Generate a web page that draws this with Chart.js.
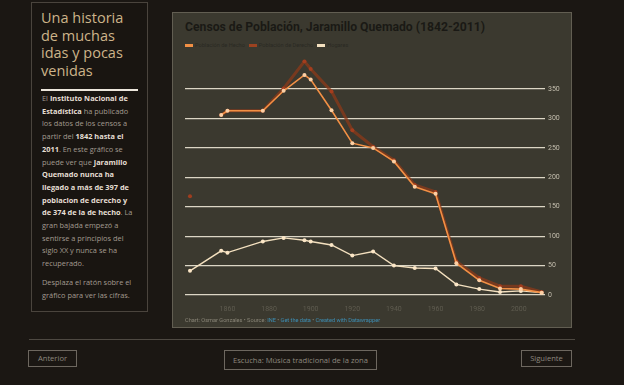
<!DOCTYPE html>
<html>
<head>
<meta charset="utf-8">
<script src="https://cdn.jsdelivr.net/npm/chart.js@4.4.0/dist/chart.umd.min.js"></script>
<style>
  body { margin:0; width:624px; height:385px; background:#1b1713; overflow:hidden; position:relative; font-family:"Open Sans", sans-serif; }
  #side { position:absolute; left:31px; top:2px; width:117px; height:310px; border:1px solid #4a443d; box-sizing:border-box; background:#191511; }
  #side h1 { position:absolute; left:9px; top:6px; margin:0; font-weight:400; font-size:14.5px; line-height:17.5px; color:#cdb48a; white-space:nowrap; }
  #side .rule { position:absolute; left:9px; top:86px; width:97px; height:2px; background:#ece6dc; }
  #side .txt { position:absolute; left:10px; top:89px; font-size:7.4px; line-height:12.7px; color:#a39b90; white-space:nowrap; }
  #side .txt b { color:#e6dfd4; font-weight:700; }
  #side .txt .gap { height:6px; }
  #panel { position:absolute; left:172px; top:12px; width:400px; height:316px; background:#3b392f; border:1px solid #625e52; box-sizing:border-box; }
  #title { position:absolute; left:185px; top:20px; font-family:Roboto, sans-serif; font-weight:700; font-size:12.2px; color:#1a1915; white-space:nowrap; }
  #legend { position:absolute; left:185px; top:42px; font-family:Roboto, sans-serif; font-size:5.6px; color:#2a2923; white-space:nowrap; }
  #legend span { margin-right:4px; }
  #legend i { display:inline-block; width:8px; height:3px; margin-right:2px; vertical-align:middle; }
  #footer { position:absolute; left:185px; top:317px; font-family:Roboto, sans-serif; font-size:5.6px; color:#8a8678; white-space:nowrap; }
  #footer a { color:#3d8fb6; text-decoration:none; }
  #chartBox { position:absolute; left:172px; top:12px; width:400px; height:316px; }
  #line { position:absolute; left:29px; top:339px; width:546px; height:1px; background:#4e4942; }
  .btn { position:absolute; top:350px; height:17px; border:1px solid #6d675f; box-sizing:border-box; color:#8e887f; font-size:7.6px; line-height:15px; text-align:center; white-space:nowrap; }
</style>
</head>
<body>
<div id="side">
  <h1>Una historia<br>de muchas<br>idas y pocas<br>venidas</h1>
  <div class="rule"></div>
  <div class="txt">
    El <b>Instituto Nacional de</b><br>
    <b>Estadística</b> ha publicado<br>
    los datos de los censos a<br>
    partir del <b>1842 hasta el</b><br>
    <b>2011</b>. En este gráfico se<br>
    puede ver que <b>Jaramillo</b><br>
    <b>Quemado nunca ha</b><br>
    <b>llegado a más de 397 de</b><br>
    <b>poblacion de derecho y</b><br>
    <b>de 374 de la de hecho</b>. La<br>
    gran bajada empezó a<br>
    sentirse a principios del<br>
    siglo XX y nunca se ha<br>
    recuperado.
    <div class="gap"></div>
    Desplaza el ratón sobre el<br>
    gráfico para ver las cifras.
  </div>
</div>

<div id="panel"></div>
<div id="title">Censos de Población, Jaramillo Quemado (1842-2011)</div>
<div id="legend"></div>
<div id="chartBox"><canvas id="censos" width="400" height="316"></canvas></div>
<div id="footer">Chart: Osmar Gonzales • Source: <a>INE</a> • <a>Get the data</a> • <a>Created with Datawrapper</a></div>

<div id="line"></div>
<div class="btn" style="left:28px;width:49px;">Anterior</div>
<div class="btn" style="left:224px;width:153px;height:20px;line-height:18px;">Escucha: Música tradicional de la zona</div>
<div class="btn" style="left:521px;width:51px;">Siguiente</div>

<script>
// census years and values
const years   = [1842, 1857, 1860, 1877, 1887, 1897, 1900, 1910, 1920, 1930, 1940, 1950, 1960, 1970, 1981, 1991, 2001, 2011];
const hecho   = [null, 306, 313, 313, 347, 374, 366, 314, 258, 250, 227, 184, 172, 54, 25, 11, 10, 4];
const derecho = [168, 306, 313, 313, 351, 397, 384, 346, 280, 252, 229, 187, 175, 57, 29, 15, 15, 5];
const hogares = [41, 75, 72, 91, 97, 93, 91, 85, 67, 74, 50, 46, 45, 18, 10, 5, 7, 4];
const xTicks  = [1860, 1880, 1900, 1920, 1940, 1960, 1980, 2000];
const yTicks  = [0, 50, 100, 150, 200, 250, 300, 350];

const series = [
  { label: 'Población de Hecho', values: hecho, color: '#f29045' },
  { label: 'Población de Derecho', values: derecho, color: '#9c4220' },
  { label: 'Hogares', values: hogares, color: '#f3e0bf' }
];

const toPoints = arr => years.map((y, i) => ({ x: y, y: arr[i] }));

// legend
document.getElementById('legend').innerHTML = series
  .map(s => `<span><i style="background:${s.color}"></i>${s.label}</span>`).join('');

const ctx = document.getElementById('censos').getContext('2d');
new Chart(ctx, {
  type: 'line',
  data: {
    datasets: [
      {
        label: series[0].label,
        data: toPoints(hecho),
        borderColor: '#f29045',
        backgroundColor: '#fbcfa4',
        borderWidth: 1.6,
        pointRadius: 2,
        pointBorderWidth: 0,
        tension: 0
      },
      {
        label: series[1].label,
        data: toPoints(derecho),
        borderColor: 'rgba(140,58,26,0.75)',
        backgroundColor: 'rgba(170,62,30,0.9)',
        borderWidth: 3,
        pointRadius: 2,
        pointBorderWidth: 0,
        tension: 0,
        // 1842 stands alone
        segment: { borderColor: c => c.p0DataIndex === 0 ? 'rgba(0,0,0,0)' : undefined }
      },
      {
        label: series[2].label,
        data: toPoints(hogares),
        borderColor: '#f3e0bf',
        backgroundColor: '#fbe6c6',
        borderWidth: 1.4,
        pointRadius: 2,
        pointBorderWidth: 0,
        tension: 0
      }
    ]
  },
  options: {
    responsive: false,
    animation: false,
    layout: { padding: { left: 13, top: 47.6, right: 0, bottom: 13 } },
    plugins: {
      legend: { display: false },
      tooltip: { backgroundColor: '#f5f1e8', titleColor: '#222', bodyColor: '#222' }
    },
    scales: {
      x: {
        type: 'linear',
        min: 1839.6,
        max: 2012.6,
        afterBuildTicks: s => { s.ticks = xTicks.map(v => ({ value: v })); },
        afterFit: s => { s.height = 20; },
        grid: { display: false },
        border: { display: false },
        ticks: {
          color: '#5f5c50',
          padding: 2,
          maxRotation: 0,
          font: { family: 'Roboto', size: 7 },
          callback: v => String(v)
        }
      },
      y: {
        position: 'right',
        min: 0,
        max: 400,
        afterBuildTicks: s => { s.ticks = yTicks.map(v => ({ value: v })); },
        afterFit: s => { s.width = 27; },
        grid: { color: '#dcd6c5', lineWidth: 1.3, drawTicks: false },
        border: { display: false },
        ticks: {
          color: '#c4beae',
          padding: 3,
          font: { family: 'Roboto', size: 7 }
        }
      }
    }
  }
});
</script>
</body>
</html>
